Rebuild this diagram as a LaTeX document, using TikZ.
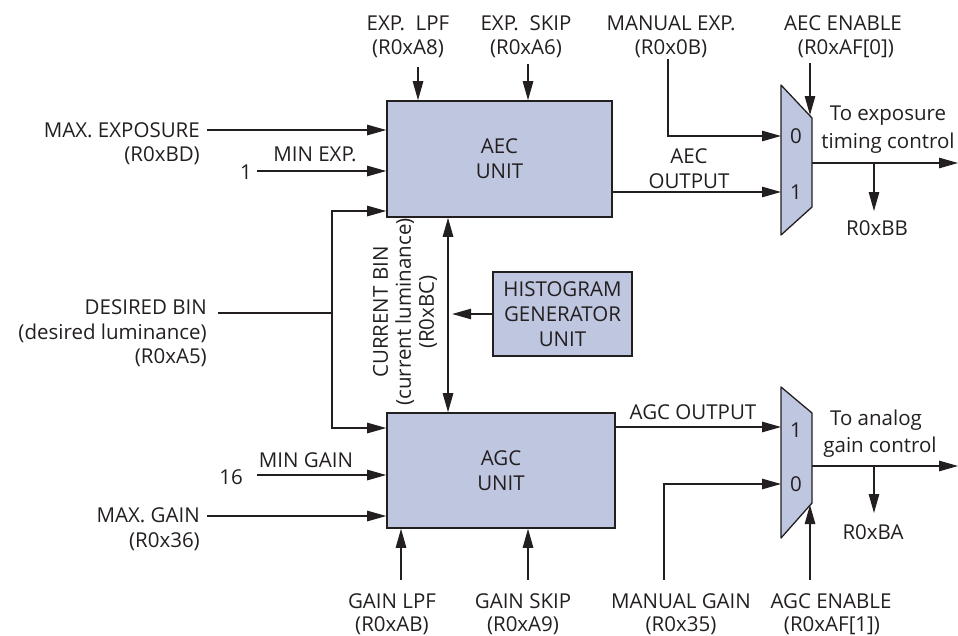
\documentclass[tikz,border=0pt]{standalone}
\usepackage{fontspec}
\setmainfont{Open Sans}
\usetikzlibrary{arrows.meta,calc}
\definecolor{boxfill}{RGB}{191,198,224}
\definecolor{ink}{RGB}{35,31,32}
\begin{document}
\begin{tikzpicture}[x=1pt,y=-1pt,
  every node/.style={font=\fontsize{20.5}{25}\selectfont, text=ink, inner sep=0pt},
  blk/.style={draw=ink, fill=boxfill, line width=1.6pt, align=center},
  ln/.style={draw=ink, line width=1.1pt},
  arr/.style={ln, -{Triangle[length=19pt,width=10.5pt]}},
  darr/.style={ln, {Triangle[length=19pt,width=10.5pt]}-{Triangle[length=19pt,width=10.5pt]}},
  mux/.style={draw=ink, fill=boxfill, line width=1.3pt, line join=round},
]
\useasboundingbox (0,0) rectangle (958,635);

% blocks
\node[blk, minimum width=225pt, minimum height=116pt] (aec) at (499.5,159) {AEC\\UNIT};
\node[blk, minimum width=228pt, minimum height=115pt] (agc) at (501,470.5) {AGC\\UNIT};
\node[blk, minimum width=139pt, minimum height=84pt] (hist) at (562.5,314) {HISTOGRAM\\GENERATOR\\UNIT};

% muxes
\coordinate (m1a) at (781,85); \coordinate (m1b) at (812,118);
\coordinate (m1c) at (812,207); \coordinate (m1d) at (781,235);
\draw[mux] (m1a) -- (m1b) -- (m1c) -- (m1d) -- cycle;
\coordinate (m2a) at (781,387); \coordinate (m2b) at (812,413);
\coordinate (m2c) at (812,503); \coordinate (m2d) at (781,538);
\draw[mux] (m2a) -- (m2b) -- (m2c) -- (m2d) -- cycle;
\node (m1z) at (796,136) {0};
\node (m1o) at (796,192) {1};
\node (m2o) at (796,430) {1};
\node (m2z) at (796,484) {0};

% top labels
\node (lpf1) at (408,23) {EXP.~~LPF};
\node (lpf2) at (408,49) {(R0xA8)};
\node (skp1) at (526,23) {EXP.~~SKIP};
\node (skp2) at (526,49) {(R0xA6)};
\node (mex1) at (671,23) {MANUAL EXP.};
\node (mex2) at (671,49) {(R0x0B)};
\node (aen1) at (843,23) {AEC ENABLE};
\node (aen2) at (846,49) {(R0xAF[0])};

\coordinate (lpfs) at (418,67);
\coordinate (skps) at (528,64);
\coordinate (mexs) at (668,59);
\coordinate (aens) at (810,63);
\coordinate (m1in0) at (781,136);
\coordinate (m1in1) at (781,192);
\draw[arr] (lpfs) -- (lpfs |- aec.north);
\draw[arr] (skps) -- (skps |- aec.north);
\draw[arr] (mexs) |- (m1in0);
\draw[arr] (aens) -- (810,115);

% left labels AEC
\node[anchor=east] (mxe1) at (200,130) {MAX. EXPOSURE};
\node[anchor=east] (mxe2) at (200,156) {(R0xBD)};
\node[anchor=east] (one) at (252,172) {1};
\node (mne) at (315,154) {MIN EXP.};
\coordinate (mxes) at (207,130);
\coordinate (mnes) at (257,171);
\draw[arr] (mxes) -- (mxes -| aec.west);
\draw[arr] (mnes) -- (mnes -| aec.west);

% desired bin
\node[anchor=east] (db1) at (207,307) {DESIRED BIN};
\node[anchor=east] (db2) at (207,333) {(desired luminance)};
\node[anchor=east] (db3) at (207,358) {(R0xA5)};
\coordinate (dbs) at (218,313);
\coordinate (jn) at (332,313);
\coordinate (a3) at (387,211);
\coordinate (g1) at (387,428);
\draw[ln] (dbs) -- (jn);
\draw[arr] (jn) |- (a3 -| aec.west);
\draw[arr] (jn) |- (g1 -| agc.west);

% current bin
\coordinate (cb) at (448,313);
\draw[darr] (cb |- aec.south) -- (cb |- agc.north);
\draw[arr] (hist.west) -- ++(-40,0);
\node[rotate=90, align=center, font=\fontsize{20.5}{23}\selectfont] (cbl) at (405,312) {CURRENT BIN\\(current luminance)\\(R0xBC)};

% AEC output
\node (ao1) at (689,156) {AEC};
\node (ao2) at (689,181) {OUTPUT};
\draw[arr] (m1in1 -| aec.east) -- (m1in1);
\coordinate (m1out) at (812,163);
\coordinate (m1end) at (958,163);
\coordinate (m1br) at (874,163);
\draw[arr] (m1out) -- (m1end);
\draw[arr] (m1br) -- (874,211);
\node (rbb) at (877,228) {R0xBB};
\node (te1) at (888,116) {To exposure};
\node (te2) at (888,143) {timing control};

% AGC left
\node (sixteen) at (231,477) {16};
\node (mng) at (306,460) {MIN GAIN};
\node[anchor=east] (mxg1) at (200,515) {MAX. GAIN};
\node[anchor=east] (mxg2) at (200,542) {(R0x36)};
\coordinate (mngs) at (257,475);
\coordinate (mxgs) at (207,516);
\draw[arr] (mngs) -- (mngs -| agc.west);
\draw[arr] (mxgs) -- (mxgs -| agc.west);

% bottom labels
\node (gl1) at (392,601) {GAIN LPF};
\node (gl2) at (392,626) {(R0xAB)};
\node (gs1) at (523,601) {GAIN SKIP};
\node (gs2) at (523,626) {(R0xA9)};
\node (mg1) at (681,601) {MANUAL GAIN};
\node (mg2) at (681,626) {(R0x35)};
\node (ge1) at (831,601) {AGC ENABLE};
\node (ge2) at (832,626) {(R0xAF[1])};
\coordinate (gls) at (401,580);
\coordinate (gss) at (528,580);
\coordinate (mgs) at (664,580);
\coordinate (ges) at (810,580);
\coordinate (m2in1) at (781,427);
\coordinate (m2in0) at (781,484);
\draw[arr] (gls) -- (gls |- agc.south);
\draw[arr] (gss) -- (gss |- agc.south);
\draw[arr] (mgs) |- (m2in0);
\draw[arr] (ges) -- (810,505);

% AGC output
\node (go) at (693,412) {AGC OUTPUT};
\draw[arr] (m2in1 -| agc.east) -- (m2in1);
\coordinate (m2out) at (812,466);
\coordinate (m2end) at (958,466);
\coordinate (m2br) at (874,466);
\draw[arr] (m2out) -- (m2end);
\draw[arr] (m2br) -- (874,513);
\node (rba) at (873,532) {R0xBA};
\node (ta1) at (876,420) {To analog};
\node (ta2) at (880,447) {gain control};
\end{tikzpicture}
\end{document}
